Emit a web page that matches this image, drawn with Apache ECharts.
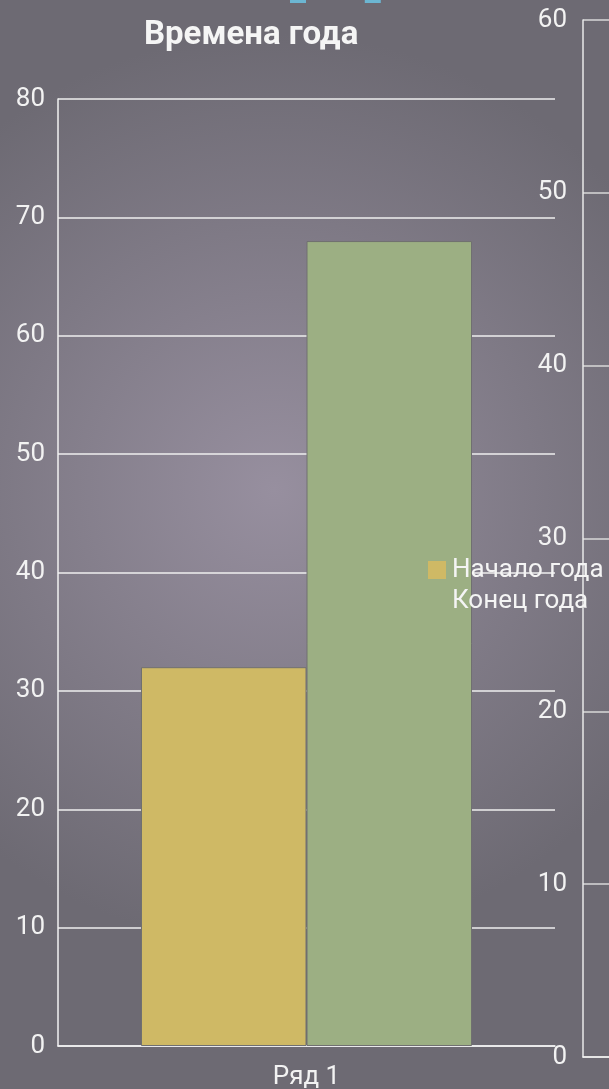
<!DOCTYPE html>
<html><head><meta charset="utf-8">
<script src="https://cdn.jsdelivr.net/npm/echarts@6/dist/echarts.min.js"></script>
<style>html,body{margin:0;padding:0;}#c{width:609px;height:1089px;}</style>
</head><body><div id="c"></div>
<script>
const categories = ['Ряд 1'];
const seriesNames = ['Начало года', 'Конец года'];
const startValues = [32];
const endValues = [68];
const leftTicks = { min: 0, max: 80, interval: 10 };
const rightTicks = { min: 0, max: 60, interval: 10 };
const secondNames = ['Ряд 1 ', 'Ряд 2 '];

const font = 'Roboto';
const txt = '#f2f2f2';
const chart = echarts.init(document.getElementById('c'));
chart.setOption({
  animation: false,
  backgroundColor: {
    type: 'radial', x: 0.45, y: 0.45, r: 0.75,
    colorStops: [{ offset: 0, color: '#978f9f' }, { offset: 1, color: '#6d6a73' }]
  },
  title: {
    text: 'Времена года', left: 139, top: 14,
    textStyle: { color: '#f5f5f5', fontSize: 33, fontWeight: 'bold', fontFamily: font }
  },
  legend: [{
    data: seriesNames, orient: 'vertical', left: 428, top: 555, padding: 0,
    itemWidth: 18, itemHeight: 18, itemGap: 1, icon: 'rect',
    itemStyle: { borderWidth: 0 },
    textStyle: { color: '#f4f4f4', fontSize: 26, lineHeight: 30, fontFamily: font, padding: [0, 0, 0, 1] }
  }, {
    data: secondNames, orient: 'horizontal', left: 290, top: -13, padding: 0,
    itemWidth: 16, itemHeight: 16, itemGap: 14, icon: 'rect',
    textStyle: { color: 'rgba(0,0,0,0)', fontSize: 14, fontFamily: font }
  }],
  grid: [
    { left: 58, top: 99, width: 497, height: 947, outerBoundsMode: 'none', containLabel: false },
    { left: 583, top: 20, width: 400, height: 1037, outerBoundsMode: 'none', containLabel: false }
  ],
  xAxis: [{
    type: 'category', data: categories, gridIndex: 0,
    axisLine: { lineStyle: { color: '#f2f2f2', width: 1.5 } },
    axisTick: { show: false },
    axisLabel: { color: txt, fontSize: 26, fontFamily: font, margin: 18 }
  }, {
    type: 'category', data: categories, gridIndex: 1,
    axisLine: { lineStyle: { color: '#f2f2f2', width: 1.5 } },
    axisTick: { show: false },
    axisLabel: { show: false }
  }],
  yAxis: [{
    type: 'value', gridIndex: 0, min: leftTicks.min, max: leftTicks.max, interval: leftTicks.interval,
    axisLine: { show: true, lineStyle: { color: '#f2f2f2', width: 1.5 } },
    axisTick: { show: false },
    splitLine: { lineStyle: { color: '#efefef', width: 1.5 } },
    axisLabel: { color: txt, fontSize: 26, fontFamily: font, margin: 13 }
  }, {
    type: 'value', gridIndex: 1, min: rightTicks.min, max: rightTicks.max, interval: rightTicks.interval,
    axisLine: { show: true, lineStyle: { color: '#e8e8e8', width: 1.5 } },
    axisTick: { show: false },
    splitLine: { lineStyle: { color: '#d8d8d8', width: 1.5 } },
    axisLabel: { color: txt, fontSize: 26, fontFamily: font, margin: 16 }
  }],
  series: [{
    name: seriesNames[0], type: 'bar', data: startValues, xAxisIndex: 0, yAxisIndex: 0,
    barGap: '0%', barCategoryGap: '33.4%',
    itemStyle: { color: '#cfb965', borderColor: '#707070', borderWidth: 1 }
  }, {
    name: seriesNames[1], type: 'bar', data: endValues, xAxisIndex: 0, yAxisIndex: 0,
    itemStyle: { color: '#9caf83', borderColor: '#707070', borderWidth: 1 }
  }, {
    name: secondNames[0], type: 'bar', data: [], xAxisIndex: 1, yAxisIndex: 1,
    itemStyle: { color: '#6cb6d2' }
  }, {
    name: secondNames[1], type: 'bar', data: [], xAxisIndex: 1, yAxisIndex: 1,
    itemStyle: { color: '#6cb6d2' }
  }]
});
</script></body></html>
